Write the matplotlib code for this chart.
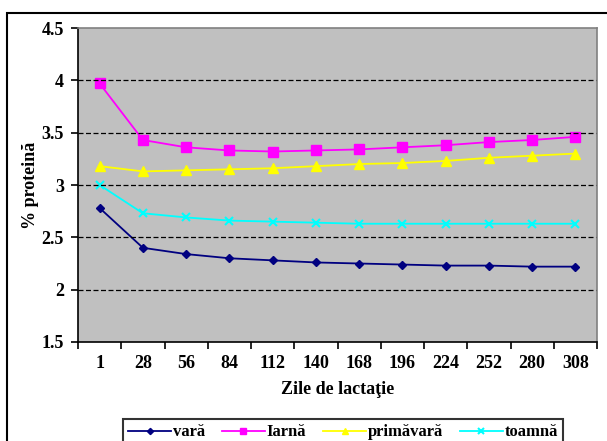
import matplotlib
matplotlib.use("Agg")
import matplotlib.pyplot as plt
from matplotlib.patches import Rectangle
import numpy as np

plt.rcParams['font.family'] = ['Liberation Serif', 'DejaVu Serif']
plt.rcParams['font.weight'] = 'bold'

days = ["1", "28", "56", "84", "112", "140", "168", "196", "224", "252", "280", "308"]
vara = [2.78, 2.40, 2.34, 2.30, 2.28, 2.26, 2.25, 2.24, 2.23, 2.23, 2.22, 2.22]
iarna = [3.97, 3.43, 3.36, 3.33, 3.32, 3.33, 3.34, 3.36, 3.38, 3.41, 3.43, 3.46]
primavara = [3.18, 3.13, 3.14, 3.15, 3.16, 3.18, 3.20, 3.21, 3.23, 3.26, 3.28, 3.30]
toamna = [3.00, 2.73, 2.69, 2.66, 2.65, 2.64, 2.63, 2.63, 2.63, 2.63, 2.63, 2.63]
labels = ["vară", "Iarnă", "primăvară", "toamnă"]
yticks = [1.5, 2, 2.5, 3, 3.5, 4, 4.5]

fig = plt.figure(figsize=(6.07, 4.41), dpi=100)
fig.patches.append(Rectangle((7/607, -0.1), 1.2, 1 - 13/441 + 0.1, transform=fig.transFigure,
                             fill=False, edgecolor='black', linewidth=1.5))
ax = fig.add_axes([78/607, 1 - 342/441, 519/607, 314/441])
ax.set_facecolor('#C0C0C0')
x = np.arange(len(days))
ax.plot(x, vara, color='#000080', marker='D', markersize=4.5, lw=1.3, label=labels[0])
ax.plot(x, iarna, color='#FF00FF', marker='s', markersize=6.5, lw=1.3, label=labels[1])
ax.plot(x, primavara, color='#FFFF00', marker='^', markersize=6.5, lw=1.3, label=labels[2])
ax.plot(x, toamna, color='#00FFFF', marker='x', markersize=6, mew=1.5, lw=1.3, label=labels[3])

ax.set_xlim(-0.5, len(days) - 0.5)
ax.set_ylim(1.5, 4.5)
ax.set_yticks(yticks)
ax.set_yticklabels([f"{v:g}" for v in yticks], fontsize=13, fontweight='bold')
for v in yticks[1:-1]:
    ax.axhline(v, color='black', lw=0.9, ls=(0, (4, 2)))
ax.set_xticks(x)
ax.set_xticklabels(days, fontsize=13, fontweight='bold')
ax.tick_params(axis='x', which='major', length=0, pad=9)
ax.set_xticks(np.arange(len(days) + 1) - 0.5, minor=True)
ax.tick_params(axis='x', which='minor', length=5, width=1.2, direction='out')
ax.tick_params(axis='y', length=5, width=1.2, direction='out', pad=5)
for s in ['left', 'bottom']:
    ax.spines[s].set_color('black')
    ax.spines[s].set_linewidth(1.2)
for s in ['top', 'right']:
    ax.spines[s].set_color('#808080')
    ax.spines[s].set_linewidth(1.2)

ax.set_ylabel("% proteină", fontsize=13, fontweight='bold', labelpad=2)
ax.set_xlabel("Zile de lactaţie", fontsize=13, fontweight='bold', labelpad=7)

leg = fig.legend(loc='upper center', bbox_to_anchor=(343/607, 1 - 411/441), ncol=4,
                 frameon=True, fancybox=False, edgecolor='black', fontsize=12,
                 handlelength=2.6, columnspacing=1.0, handletextpad=0.1, borderpad=0.3,
                 markerscale=0.7)
leg.get_frame().set_linewidth(1.5)
for t in leg.get_texts():
    t.set_fontweight('bold')

fig.savefig("out.png", dpi=100)
